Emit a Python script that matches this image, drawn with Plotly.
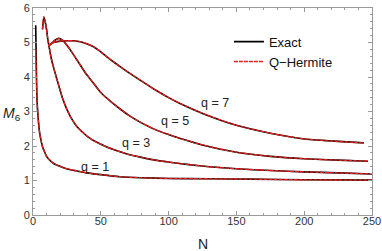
import plotly.graph_objects as go

# ---- data ----
n_q1 = [2, 3, 4, 5, 6, 7, 8, 10, 12, 15, 18, 22, 27, 32, 40, 50, 64, 80, 100, 130, 160, 200, 250]
m_q1_exact = [5.5, 3.3, 2.72, 2.35, 2.15, 1.98, 1.88, 1.70, 1.60, 1.50, 1.44, 1.38, 1.32, 1.28, 1.22,
              1.17, 1.11, 1.08, 1.06, 1.05, 1.04, 1.02, 1.01]
m_q1_qh = [4.8, 3.3, 2.72, 2.35, 2.15, 1.98, 1.88, 1.70, 1.60, 1.50, 1.44, 1.38, 1.32, 1.28, 1.22,
           1.17, 1.11, 1.08, 1.06, 1.05, 1.04, 1.02, 1.01]

n_q3 = [7, 8, 9, 10, 11, 12, 13, 14, 15, 17, 19, 22, 25, 28, 32, 36, 41, 46, 54, 60, 70, 80, 90,
        101, 115, 130, 150, 175, 200, 225, 250]
m_q3_exact = [5.38, 5.74, 5.6, 5.38, 5.07, 4.85, 4.63, 4.45, 4.30, 4.02, 3.75, 3.36, 3.06, 2.82,
              2.58, 2.42, 2.25, 2.13, 1.98, 1.89, 1.76, 1.67, 1.59, 1.53, 1.46, 1.40, 1.34, 1.29,
              1.25, 1.22, 1.19]
m_q3_qh = list(m_q3_exact)

n_q5 = [11.5, 14, 16, 19, 22, 25, 29, 34, 39, 44, 50, 57, 64, 71, 80, 91, 101, 110, 125, 150, 175,
        200, 225, 247]
m_q5_exact = [4.9, 4.98, 5.06, 5.12, 5.06, 4.92, 4.70, 4.40, 4.10, 3.85, 3.55, 3.30, 3.08, 2.88,
              2.67, 2.46, 2.32, 2.20, 2.03, 1.82, 1.70, 1.63, 1.59, 1.56]
m_q5_qh = list(m_q5_exact)

n_q7 = [12, 15, 20, 25, 30, 35, 40, 45, 50, 55, 60, 65, 72, 79, 90, 101, 108, 126, 150, 175, 199,
        222, 244]
m_q7_exact = [4.92, 5.0, 5.04, 5.05, 5.05, 5.02, 4.96, 4.87, 4.73, 4.57, 4.42, 4.28, 4.09, 3.91,
              3.63, 3.38, 3.24, 2.93, 2.60, 2.37, 2.21, 2.14, 2.09]
m_q7_qh = list(m_q7_exact)

series = [
    ("q = 1", n_q1, m_q1_exact, m_q1_qh),
    ("q = 3", n_q3, m_q3_exact, m_q3_qh),
    ("q = 5", n_q5, m_q5_exact, m_q5_qh),
    ("q = 7", n_q7, m_q7_exact, m_q7_qh),
]

label_text = ["q = 1", "q = 3", "q = 5", "q = 7"]
label_n = [46, 76, 105, 134]
label_m = [1.40, 2.08, 2.72, 3.25]

x_ticks = [0, 50, 100, 150, 200, 250]
y_ticks = [0, 1, 2, 3, 4, 5, 6]

FONT = "Liberation Sans, Arial, sans-serif"

fig = go.Figure()

for i, (name, n, ex, qh) in enumerate(series):
    fig.add_trace(go.Scatter(
        x=n, y=ex, mode="lines",
        line=dict(color="black", width=1.6, shape="spline", smoothing=0.6),
        name="Exact", legendgroup="exact", showlegend=(i == 0),
    ))
for i, (name, n, ex, qh) in enumerate(series):
    fig.add_trace(go.Scatter(
        x=n, y=qh, mode="lines",
        line=dict(color="#e8201c", width=1.3, dash="4px,1px", shape="spline", smoothing=0.6),
        name="Q\u2212Hermite", legendgroup="qh", showlegend=(i == 0),
    ))

for t, xn, ym in zip(label_text, label_n, label_m):
    fig.add_annotation(x=xn, y=ym, text=t, showarrow=False,
                       font=dict(family=FONT, size=12.5, color="#222"))

fig.add_annotation(xref="paper", yref="paper", x=0.5, y=-0.093, text="N", showarrow=False,
                   yanchor="top", font=dict(family=FONT, size=14, color="#222"))
fig.add_annotation(xref="paper", yref="paper", x=-0.062, y=0.49, text="<i>M</i><sub>6</sub>",
                   showarrow=False, xanchor="center",
                   font=dict(family=FONT, size=14, color="#222"))

axis_common = dict(
    showgrid=False, zeroline=False, showline=True, linecolor="#9a9a9a", linewidth=1,
    mirror="allticks", ticks="inside", ticklen=4, tickcolor="#9a9a9a", tickwidth=1,
    tickfont=dict(family=FONT, size=11, color="#333"), automargin=False,
)

fig.update_xaxes(range=[0, 250], tickvals=x_ticks, ticklabelstandoff=-4,
                 minor=dict(dtick=10, ticks="inside", ticklen=2, tickcolor="#9a9a9a"),
                 **axis_common)
fig.update_yaxes(range=[0, 6], tickvals=y_ticks,
                 minor=dict(dtick=0.2, ticks="inside", ticklen=2, tickcolor="#9a9a9a"),
                 **axis_common)

fig.update_layout(
    width=382, height=251,
    margin=dict(l=33, r=10, t=8, b=36),
    plot_bgcolor="white", paper_bgcolor="white",
    legend=dict(x=0.578, y=0.91, xanchor="left", yanchor="top",
                bgcolor="rgba(0,0,0,0)", font=dict(family=FONT, size=13, color="#111"),
                itemwidth=30, tracegroupgap=0),
)

fig.write_html("out.html", config={"displayModeBar": False},
               post_script="document.body.style.margin='0';")
